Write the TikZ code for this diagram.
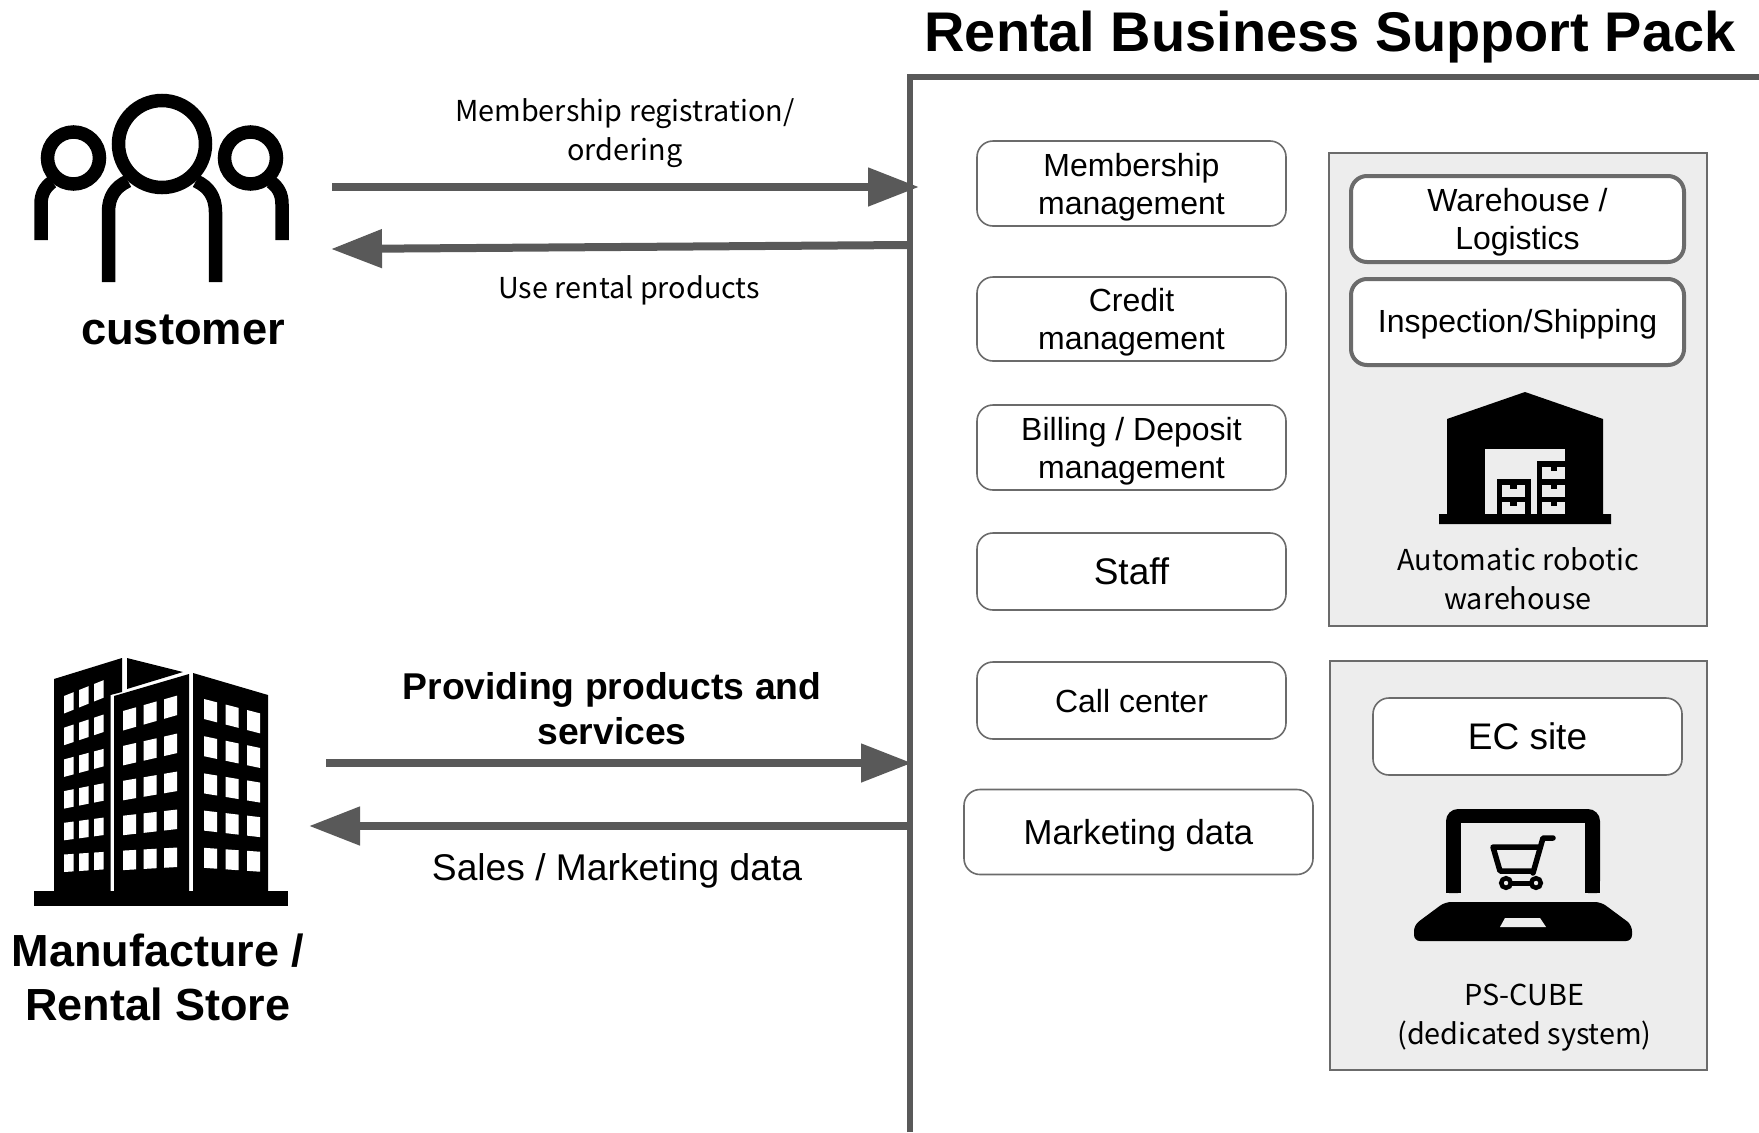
\documentclass[tikz,border=0pt]{standalone}
\usepackage{fontspec}
\setmainfont{Liberation Sans}
\newfontfamily\gothicFont{Noto Sans CJK JP}
\usetikzlibrary{arrows.meta}
\colorlet{lineGrey}{black!65}
\colorlet{boxEdge}{black!58}
\colorlet{panelGrey}{black!7}
\newcommand{\fs}[2]{\fontsize{#1bp}{#2bp}\selectfont}
% one block of slanted windows: x0, y0, row step, slope, slope step, height, width, col step, last row
\newcommand{\windowGrid}[9]{%
  \foreach \r in {0,...,#9} {
    \foreach \c in {0,1,2} {
      \pgfmathsetmacro\xa{#1+\c*#8}
      \pgfmathsetmacro\xb{\xa+#7}
      \pgfmathsetmacro\slope{#4+\r*#5}
      \pgfmathsetmacro\ya{#2+\r*#3+(\xa-#1)*\slope}
      \pgfmathsetmacro\yb{#2+\r*#3+(\xb-#1)*\slope}
      \fill[white] (\xa,\ya) -- (\xb,\yb) -- (\xb,\yb+#6) -- (\xa,\ya+#6) -- cycle;
    }
  }%
}
\tikzset{
  rentalBox/.style 2 args={draw=boxEdge,fill=white,line width=1.6bp,rounded corners=16bp,
    minimum width=#1bp,minimum height=#2bp,inner sep=0pt,outer sep=0pt,align=center,
    text depth=-2.5bp,font=\fs{32}{38}},
  heavyBox/.style 2 args={rentalBox={#1}{#2},line width=4bp},
  panelBox/.style={draw=boxEdge,fill=panelGrey,line width=1.6bp},
  flowLine/.style={draw=lineGrey,line width=8bp,-{Triangle[length=51bp,width=37bp]},color=lineGrey},
  plainText/.style={anchor=base,align=center,inner sep=0pt,font=\gothicFont\fs{28.8}{39}},
  boldText/.style={anchor=base,align=center,inner sep=0pt,font=\bfseries\fs{#1}{45}},
  iconStroke/.style={draw=black,line width=13.5bp}
}
\begin{document}
\begin{tikzpicture}[x=1bp,y=-1bp]
\useasboundingbox (0,0) rectangle (1759,1132);
\node[boldText=55.9] (title) at (1330,51.5) {Rental Business Support Pack};
\draw[lineGrey,line width=5.5bp] (910,1132) |- (1759,77);
% panels
\node[panelBox,minimum width=378bp,minimum height=473bp] (storePanel) at (1518,389.5) {};
\node[panelBox,minimum width=377bp,minimum height=409bp] (systemPanel) at (1518.5,865.5) {};
% service boxes
\node[rentalBox={309}{85}] (memberBox) at (1131.5,183.5) {Membership\\management};
\node[rentalBox={309}{84}] (creditBox) at (1131.5,319) {Credit\\management};
\node[rentalBox={309}{85}] (billingBox) at (1131.5,447.5) {Billing / Deposit\\management};
\node[rentalBox={309}{77},font=\fs{37}{44},text depth=-4bp] (staffBox) at (1131.5,571.5) {Staff};
\node[rentalBox={309}{77}] (callBox) at (1131.5,700.5) {Call center};
\node[rentalBox={349}{85},font=\fs{34.7}{44},text depth=-4bp] (dataBox) at (1138.5,832) {Marketing data};
\node[heavyBox={333}{86}] (warehouseBox) at (1517.5,219) {Warehouse /\\Logistics};
\node[heavyBox={333}{86},text depth=3bp] (shippingBox) at (1517.5,322) {Inspection/Shipping};
\node[rentalBox={309}{77},font=\fs{37}{44},text depth=-4bp] (siteBox) at (1527.5,736.5) {EC site};
\node[plainText] (robotText) at (1518,609) {Automatic robotic\\warehouse};
\node[plainText] (cubeText) at (1524.5,1044) {PS-CUBE\\(dedicated system)};
% flows
\coordinate (custOut) at (332,187);
\coordinate (frameIn) at (919,187);
\coordinate (frameOut) at (909,245);
\coordinate (custIn) at (331,249);
\coordinate (storeOut) at (326,763);
\coordinate (frameStore) at (912,763);
\coordinate (frameData) at (909,826);
\coordinate (storeIn) at (309,826);
\draw[flowLine] (custOut) -- (frameIn);
\draw[flowLine] (frameOut) -- (custIn);
\draw[flowLine] (storeOut) -- (frameStore);
\draw[flowLine] (frameData) -- (storeIn);
\node[plainText] (orderText) at (625,160) {Membership registration/\\ordering};
\node[plainText] (useText) at (629,298) {Use rental products};
\node[boldText=37.3] (provideText) at (612,744) {Providing products and\\services};
\node[anchor=base,inner sep=0pt,font=\fs{37.2}{44}] (salesText) at (617,880) {Sales / Marketing data};
\node[boldText=45.3] (customerText) at (183,344) {customer};
\node[boldText=45,font=\bfseries\fs{45}{54}] (storeText) at (158,1020) {Manufacture /\\Rental Store};
% people
\draw[iconStroke] (162,144) circle (43.5bp);
\draw[iconStroke] (73.5,158) circle (26bp) (250.5,158) circle (26bp);
\draw[iconStroke] (108.5,282) -- (108.5,212) .. controls (108.5,197) and (115,187) .. (128,181);
\draw[iconStroke] (215.5,282) -- (215.5,212) .. controls (215.5,197) and (209,187) .. (196,181);
\draw[iconStroke] (41,240) -- (41,204) .. controls (41,194) and (45,187) .. (52,182);
\draw[iconStroke] (282,240) -- (282,204) .. controls (282,194) and (278,187) .. (271,182);
% building
\fill (34,891) rectangle (288,906);
\fill (54,679) -- (122,658) -- (122,692) -- (110.5,695) -- (110.5,892) -- (54,892) -- cycle;
\fill (127,658) -- (183,672) -- (127,689) -- cycle;
\fill (114,696) -- (189,674) -- (189,892) -- (114,892) -- cycle;
\fill (193,673) -- (268,695) -- (268,892) -- (193,892) -- cycle;
\windowGrid{64}{696}{31.7}{-0.4}{0.067}{17.5}{9.5}{15}{5}
\windowGrid{123}{711}{34.9}{-0.285}{0.057}{19.5}{13}{20.5}{4}
\windowGrid{204}{699}{37.2}{0.256}{-0.0465}{20}{13}{21.5}{4}
% warehouse
\fill (1525,392) -- (1603,419) -- (1603,514) -- (1611,514) -- (1611,524) -- (1439,524) -- (1439,514) -- (1447,514) -- (1447,419) -- cycle;
\fill[panelGrey] (1485,449) rectangle (1565,514);
\fill (1497,479) rectangle (1531,515);
\fill (1537,461) rectangle (1565,515);
\foreach \y in {485,502} {
  \fill[panelGrey] (1502,\y) rectangle (1525,\y+12);
  \fill (1510,\y) rectangle (1517,\y+4);
}
\foreach \y in {467,485,502} {
  \fill[panelGrey] (1542,\y) rectangle (1565,\y+12);
  \fill (1551,\y) rectangle (1557,\y+4);
}
% laptop
\fill[rounded corners=12bp] (1446,893) -- (1446,809) -- (1600,809) -- (1600,893) -- (1585,893) -- (1585,823) -- (1461,823) -- (1461,893) -- cycle;
\fill[panelGrey] (1461,823) rectangle (1585,893);
\fill (1585,850) rectangle (1600,893);
\fill (1446,850) rectangle (1461,893);
\fill[rounded corners=6bp] (1445,902) -- (1601,902) -- (1632,925) -- (1632,941) -- (1414,941) -- (1414,925) -- cycle;
\fill[panelGrey] (1505,918) -- (1540,918) -- (1546,927) -- (1500,927) -- cycle;
\draw[line width=5.5bp,line cap=round,line join=round] (1553,838) -- (1543,838) -- (1533,873) (1538,847) -- (1493,847) -- (1500,871) -- (1533,871);
\draw[line width=5bp] (1506,883) -- (1536,883);
\draw[line width=4.5bp,fill=panelGrey] (1506,883) circle (4.8bp) (1536,883) circle (4.8bp);
\end{tikzpicture}
\end{document}
